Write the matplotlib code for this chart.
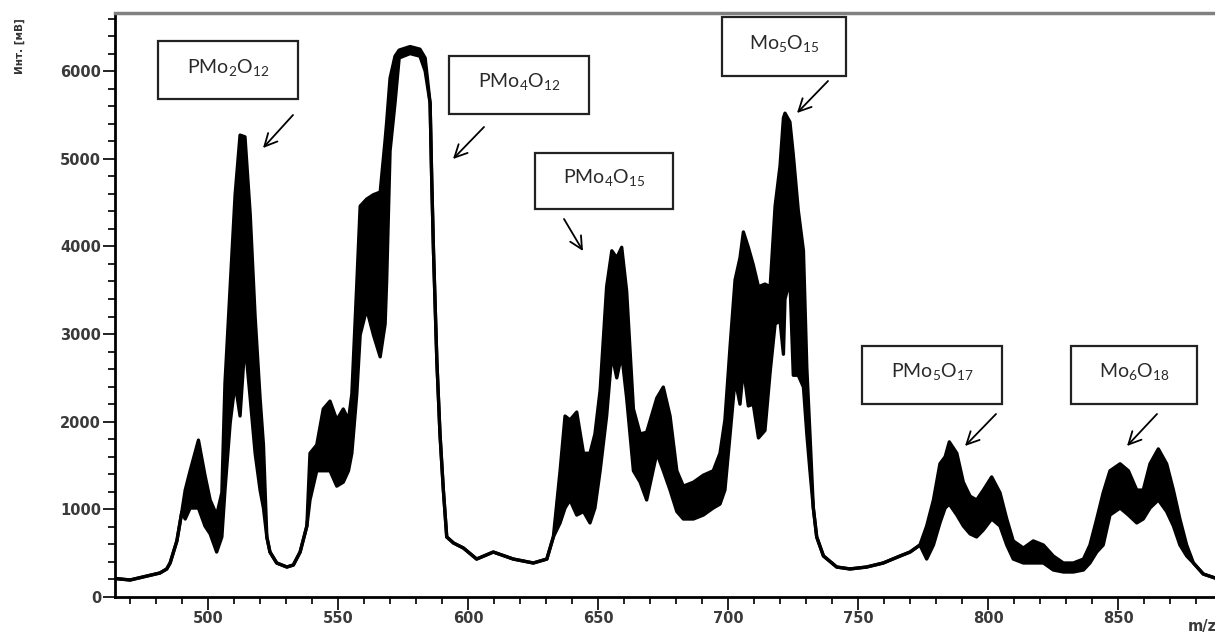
import numpy as np
import matplotlib.pyplot as plt
from matplotlib.ticker import MultipleLocator

plt.rcParams['mathtext.fontset'] = 'custom'
plt.rcParams['mathtext.rm'] = 'Lato'
plt.rcParams['mathtext.it'] = 'Lato'

# spectrum: m/z, top and bottom of the noisy trace
mz = [462.3, 470.0, 481.5, 484.1, 485.4, 488.0, 489.9, 491.2, 493.1, 496.3,
      498.8, 500.8, 503.3, 505.3, 506.5, 508.5, 510.4, 512.3, 514.2, 516.2,
      518.1, 520.0, 521.3, 522.6, 523.8, 526.4, 530.3, 532.8, 535.4, 538.0,
      539.2, 541.8, 544.3, 546.9, 549.5, 552.0, 554.0, 555.3, 557.2, 558.5,
      561.0, 563.6, 566.2, 568.1, 568.7, 570.0, 571.9, 573.5, 577.7, 581.5,
      583.5, 585.4, 586.0, 586.7, 588.0, 589.2, 590.5, 591.8, 594.4, 598.2,
      603.3, 609.7, 617.4, 625.1, 630.3, 632.8, 635.4, 637.3, 639.2, 641.8,
      644.4, 646.9, 648.8, 650.8, 653.3, 655.3, 657.2, 659.1, 661.0, 663.6,
      666.2, 668.7, 672.6, 675.1, 677.7, 680.3, 682.8, 686.7, 690.5, 694.3,
      696.9, 698.8, 700.8, 702.7, 704.6, 705.9, 707.8, 709.7, 711.7, 714.2,
      716.2, 718.1, 720.0, 721.3, 721.9, 723.8, 725.1, 727.0, 729.0, 730.3,
      731.5, 732.8, 734.1, 736.7, 741.8, 746.9, 753.3, 759.7, 766.2, 770.0,
      773.8, 776.4, 779.0, 781.5, 783.5, 785.1, 788.0, 790.5, 793.1, 795.6,
      798.2, 801.4, 804.6, 807.2, 809.7, 813.6, 817.4, 821.3, 825.1, 829.0,
      832.8, 836.7, 839.2, 841.8, 844.3, 846.9, 850.8, 854.0, 857.2, 859.7,
      862.3, 865.5, 868.7, 871.3, 873.8, 876.4, 879.0, 882.8, 887.3]
upper = [217, 194, 274, 320, 388, 640, 970, 1220, 1440, 1790,
         1390, 1107, 935, 1190, 2440, 3540, 4590, 5270, 5250, 4370,
         3195, 2270, 1735, 685, 513, 388, 342, 365, 513, 810,
         1640, 1735, 2145, 2235, 2020, 2145, 2020, 2315, 3570, 4460,
         4540, 4590, 4620, 5215, 5420, 5920, 6170, 6240, 6280, 6250,
         6150, 5635, 4790, 3950, 2690, 1860, 1220, 685, 616, 559,
         433, 513, 433, 388, 433, 685, 1440, 2065, 2020, 2110,
         1640, 1640, 1860, 2360, 3540, 3950, 3870, 3990, 3490, 2145,
         1860, 1880, 2270, 2395, 2065, 1440, 1265, 1310, 1390, 1440,
         1640, 2020, 2865, 3617, 3870, 4165, 3990, 3790, 3540, 3570,
         3540, 4460, 4920, 5465, 5520, 5420, 5045, 4415, 3950, 2615,
         1860, 1015, 685, 468, 342, 320, 342, 388, 468, 513,
         593, 810, 1107, 1520, 1600, 1770, 1640, 1310, 1150, 1107,
         1220, 1370, 1190, 890, 640, 559, 640, 593, 468, 388,
         388, 433, 593, 890, 1190, 1440, 1520, 1440, 1220, 1220,
         1520, 1690, 1520, 1220, 890, 593, 388, 262, 217]
lower = [217, 194, 274, 320, 388, 640, 970, 890, 1015, 1015,
         810, 720, 513, 685, 1220, 1985, 2440, 2065, 2910, 2270,
         1640, 1220, 1015, 685, 513, 388, 342, 365, 513, 810,
         1107, 1440, 1440, 1440, 1265, 1310, 1440, 1640, 2315, 2990,
         3285, 2990, 2740, 3115, 3617, 5090, 5635, 6150, 6200, 6170,
         6000, 5635, 4790, 3950, 2690, 1860, 1220, 685, 616, 559,
         433, 513, 433, 388, 433, 685, 845, 1015, 1107, 935,
         975, 845, 1015, 1440, 2065, 2770, 2500, 2770, 2270, 1440,
         1310, 1107, 1640, 1440, 1220, 975, 890, 890, 935, 1015,
         1060, 1220, 1860, 2485, 2200, 2615, 2180, 2200, 1815, 1900,
         2570, 3115, 3150, 2770, 3400, 3617, 2530, 2530, 2395, 1860,
         1440, 1015, 685, 468, 342, 320, 342, 388, 468, 513,
         593, 433, 593, 845, 1015, 1060, 935, 810, 720, 685,
         765, 890, 810, 593, 433, 388, 388, 388, 308, 285,
         285, 308, 388, 513, 593, 935, 1015, 935, 845, 890,
         1015, 1107, 975, 810, 593, 468, 388, 262, 217]

labels = [r'PMo$_2$O$_{12}$', r'PMo$_4$O$_{12}$', r'PMo$_4$O$_{15}$',
          r'Mo$_5$O$_{15}$', r'PMo$_5$O$_{17}$', r'Mo$_6$O$_{18}$']

W, H = 1215, 632
fig = plt.figure(figsize=(W / 100, H / 100), dpi=100)
ax = fig.add_axes([115 / W, 1 - 597 / H, 1 - 115 / W, (597 - 13) / H])


def fpos(px, py):
    return (px / W, 1 - py / H)


ax.fill_between(mz, lower, upper, color='black', lw=0)
ax.plot(mz, upper, color='black', lw=2.4)
ax.plot(mz, lower, color='black', lw=2.4)

ax.set_xlim(464.2, 887.3)
ax.set_ylim(0, 6663)
ax.xaxis.set_major_locator(MultipleLocator(50))
ax.xaxis.set_minor_locator(MultipleLocator(10))
ax.yaxis.set_major_locator(MultipleLocator(1000))
ax.yaxis.set_minor_locator(MultipleLocator(200))
ax.tick_params(which='major', length=9, width=1.4, color='#222',
               labelsize=10.5, labelcolor='#3a3a3a', pad=1)
ax.tick_params(which='minor', length=5, width=1.4, color='#222')
for lab in ax.get_xticklabels() + ax.get_yticklabels():
    lab.set_fontweight('bold')

ax.spines['right'].set_visible(False)
ax.spines['left'].set_linewidth(2)
ax.spines['bottom'].set_linewidth(2)
ax.spines['top'].set_color('#808080')
ax.spines['top'].set_linewidth(2.5)

fig.text(*fpos(20, 46), 'Инт. [мВ]', rotation=90, ha='center', va='center',
         fontsize=7.5, fontweight='bold', color='#333')
fig.text(*fpos(1188, 626), 'm/z', ha='left', va='center', fontsize=10.5,
         fontweight='bold', color='#3a3a3a')

# label boxes (centre, size in px) and arrows (tail -> head in px)
boxes = [(228, 70, 140, 58), (519, 85, 140, 58), (604, 181, 138, 56),
         (784, 46, 124, 59), (932, 375, 140, 58), (1134, 375, 126, 58)]
arrows = [((293, 115), (263, 148)), ((484, 127), (453, 159)),
          ((564, 219), (583, 251)), ((828, 81), (797, 113)),
          ((996, 414), (965, 446)), ((1157, 414), (1127, 446))]

for lab, (cx, cy, bw, bh), (tail, head) in zip(labels, boxes, arrows):
    x0, y0 = fpos(cx - bw / 2, cy + bh / 2)
    fig.patches.append(plt.Rectangle((x0, y0), bw / W, bh / H,
                                     transform=fig.transFigure, fc='white',
                                     ec='#222', lw=1.6, zorder=5))
    fig.text(*fpos(cx, cy - 3), lab, ha='center', va='center', fontsize=14,
             family='Lato', color='#2a2a2a', zorder=6)
    ax.annotate('', xy=fpos(*head), xytext=fpos(*tail),
                xycoords='figure fraction', textcoords='figure fraction',
                arrowprops=dict(arrowstyle='->,head_length=0.9,head_width=0.45',
                                color='black', lw=1.3, shrinkA=0, shrinkB=0))

fig.savefig('out.png', dpi=100)
